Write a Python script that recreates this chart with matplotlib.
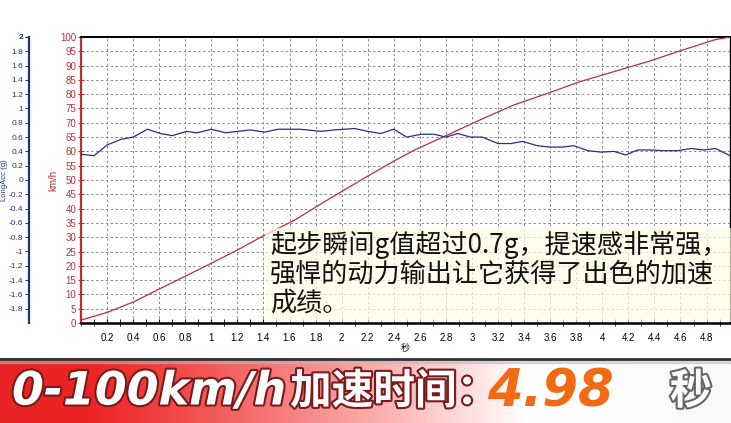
import numpy as np
import matplotlib.pyplot as plt
import matplotlib.patheffects as pe
from matplotlib.patches import Rectangle
from matplotlib.ticker import MultipleLocator, FixedLocator, FuncFormatter

plt.rcParams['font.family'] = ['Liberation Sans', 'Noto Sans CJK SC']

# speed trace (km/h) vs time (s)
t_speed = [0.0, 0.2, 0.41, 0.61, 0.82, 1.0, 1.2, 1.38, 1.64, 1.89, 2.15, 2.3, 2.4,
           2.56, 2.81, 3.07, 3.32, 3.58, 3.83, 4.09, 4.35, 4.6, 4.86, 4.98]
speed = [1.0, 3.7, 7.5, 12.1, 16.8, 20.9, 25.5, 30.0, 36.0, 43.0, 50.0, 54.0, 56.6,
         60.5, 65.7, 71.2, 76.2, 80.3, 84.4, 87.9, 91.4, 95.2, 99.0, 100.0]

# longitudinal acceleration (g) vs time (s)
t_acc = [0.0, 0.1, 0.2, 0.31, 0.4, 0.51, 0.61, 0.7, 0.81, 0.89, 1.0, 1.11, 1.2, 1.3,
         1.41, 1.51, 1.68, 1.74, 1.84, 1.94, 2.1, 2.2, 2.3, 2.4, 2.5, 2.61, 2.71, 2.8,
         2.89, 2.99, 3.08, 3.2, 3.3, 3.39, 3.5, 3.6, 3.69, 3.78, 3.89, 3.99, 4.09,
         4.18, 4.27, 4.37, 4.47, 4.58, 4.68, 4.78, 4.87, 4.98]
acc = [0.36, 0.34, 0.49, 0.57, 0.6, 0.71, 0.65, 0.62, 0.68, 0.66, 0.71, 0.66, 0.68,
       0.7, 0.67, 0.71, 0.71, 0.7, 0.68, 0.7, 0.72, 0.68, 0.65, 0.71, 0.6, 0.64, 0.64,
       0.6, 0.65, 0.6, 0.6, 0.51, 0.51, 0.54, 0.48, 0.46, 0.46, 0.48, 0.41, 0.39,
       0.4, 0.35, 0.42, 0.42, 0.41, 0.41, 0.44, 0.42, 0.44, 0.34]

x_ticks = [round(0.2 * i, 1) for i in range(1, 25)]
kmh_ticks = list(range(0, 101, 5))
g_ticks = [round(-1.8 + 0.2 * i, 1) for i in range(20)]

caption_lines = ["起步瞬间g值超过0.7g，提速感非常强，",
                 "强悍的动力输出让它获得了出色的加速",
                 "成绩。"]
banner_a = "0-100km/h"
banner_b = "加速时间："
banner_time = "4.98"
banner_unit = "秒"

red = '#b5303a'
blue = '#26307f'

fig = plt.figure(figsize=(7.31, 4.23), dpi=100)
pos = [81 / 731, 100 / 423, 649 / 731, 286 / 423]
ax = fig.add_axes(pos)
ax2 = fig.add_axes(pos, sharex=ax)
ax2.patch.set_visible(False)

fmt = FuncFormatter(lambda v, p: f"{v:g}")

# speed axis
ax.plot(t_speed, speed, color=red, lw=0.9, zorder=3)
ax.set_xlim(0, 4.98)
ax.set_ylim(0, 100)
ax.yaxis.set_major_locator(FixedLocator(kmh_ticks))
ax.yaxis.set_major_formatter(fmt)
ax.xaxis.set_major_locator(FixedLocator(x_ticks))
ax.xaxis.set_minor_locator(MultipleLocator(0.1))
ax.xaxis.set_major_formatter(fmt)
ax.tick_params(axis='y', colors=red, labelsize=7, direction='inout', length=5, width=0.8, pad=1)
ax.tick_params(axis='x', which='both', colors='black', labelsize=7, direction='in', length=3, pad=7)
ax.grid(True, color='#8a8a8a', linestyle=(0, (2.5, 2.5)), lw=0.7)
ax.set_ylabel("km/h", color=red, fontsize=7, labelpad=1)
ax.set_xlabel("秒", fontsize=6.5, labelpad=1)
ax.spines['left'].set_color(red)
ax.spines['left'].set_linewidth(1.6)
ax.spines['bottom'].set_linewidth(1.8)
ax.spines['top'].set_linestyle((0, (1.5, 0.8)))
ax.spines['top'].set_linewidth(1.4)
ax.spines['right'].set_linewidth(1.0)

# acceleration axis
ax2.plot(t_acc, acc, color=blue, lw=0.9, zorder=3)
ax2.set_ylim(-2, 2)
ax2.yaxis.set_major_locator(FixedLocator(g_ticks + [2.0]))
ax2.yaxis.set_major_formatter(fmt)
ax2.tick_params(axis='y', colors=blue, labelsize=6, direction='out', length=3, width=0.8, pad=1)
ax2.tick_params(axis='x', bottom=False, labelbottom=False)
for s in ['top', 'right', 'bottom']:
    ax2.spines[s].set_visible(False)
ax2.spines['left'].set_position(('outward', 37.5))
ax2.spines['left'].set_color(blue)
ax2.spines['left'].set_linewidth(1.6)
ax2.set_ylabel("LongAcc (g)", color=blue, fontsize=5.5)
ax2.yaxis.set_label_coords(-72.5 / 649, 0.5)

# caption with pale highlight
fig.patches.append(Rectangle((265 / 731, 1 - 322 / 423), 466 / 731, 94 / 423,
                             transform=fig.transFigure, facecolor='#fffde3',
                             alpha=0.7, edgecolor='none', zorder=5))
for i, line in enumerate(caption_lines):
    fig.text(270 / 731, 1 - (245 + 29 * i) / 423, line, fontsize=18.8, va='center',
             ha='left', family=['Noto Sans CJK SC'], color='#111111', zorder=6)

# banner
bax = fig.add_axes([0, 0, 1, 65 / 423])
bax.set_xlim(0, 731)
bax.set_ylim(0, 65)
bax.axis('off')
xs = np.linspace(0, 1, 400)
g = np.clip(0.14 + 1.5 * np.clip(xs - 0.12, 0, 1) ** 1.1, 0, 1)
g = np.where(xs > 0.72, 1 - 0.08 * (xs - 0.72), g)
r = np.where(xs > 0.72, 1 - 0.08 * (xs - 0.72), 0.91 + 0.09 * np.clip(xs * 1.6, 0, 1))
grad = np.stack([r, g, g], axis=-1)[None, :, :]
grad = np.repeat(grad, 2, axis=0)
bax.imshow(grad, extent=[0, 731, 0, 65], aspect='auto')
bax.axhline(64.2, color='#333333', lw=2)
bax.axhspan(60, 63.5, color='#bbbbbb', alpha=0.5)

shadow = [pe.withStroke(linewidth=3, foreground='#7a1a1a')]
bax.text(12, 31, banner_a, fontsize=33, weight='bold', style='italic', color='white',
         family=['DejaVu Sans'], va='center', ha='left', path_effects=shadow)
bax.text(290, 31, banner_b, fontsize=30, weight='bold', color='white',
         family=['Noto Sans CJK SC'], va='center', ha='left', path_effects=shadow)
bax.text(487, 31, banner_time, fontsize=37, weight='bold', style='italic', color='#f26a14',
         family=['DejaVu Sans'], va='center', ha='left')
bax.text(670, 31, banner_unit, fontsize=30, weight='bold', color='white',
         family=['Noto Sans CJK SC'], va='center', ha='left',
         path_effects=[pe.withStroke(linewidth=3, foreground='#666666')])

fig.savefig("out.png", dpi=100)
